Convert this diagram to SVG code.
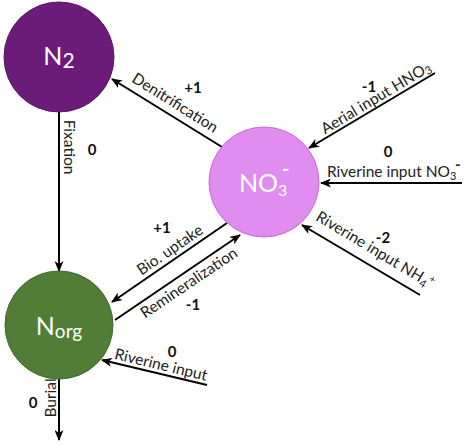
<svg xmlns="http://www.w3.org/2000/svg" width="469" height="445" viewBox="0 0 469 445">
<defs>
<marker id="ah" markerWidth="11" markerHeight="9" refX="10" refY="4.5" orient="auto" markerUnits="userSpaceOnUse">
<path d="M0,0 L11,4.5 L0,9 L3,4.5 z" fill="#000"/>
</marker>
<style>
.ln{stroke:#000;stroke-width:2;fill:none;marker-end:url(#ah)}
.lbl{font-family:Lato,"Open Sans","Liberation Sans",sans-serif;font-size:15.5px;fill:#222}
.num{font-family:Lato,"Open Sans","Liberation Sans",sans-serif;font-size:15px;font-weight:bold;fill:#111;text-anchor:middle}
.nd{font-family:Lato,"Open Sans","Liberation Sans",sans-serif;fill:#fff}
</style>
</defs>
<rect width="469" height="445" fill="#fff"/>
<g id="connectors">
<line class="ln" x1="59" y1="112" x2="59" y2="271"/>
<line class="ln" x1="59" y1="379" x2="59" y2="440"/>
<line class="ln" x1="222" y1="147" x2="112" y2="79"/>
<line class="ln" x1="435" y1="73" x2="309" y2="148"/>
<line class="ln" x1="462" y1="183" x2="321" y2="183"/>
<line class="ln" x1="420" y1="295" x2="302" y2="225"/>
<line class="ln" x1="227" y1="223" x2="112" y2="302"/>
<line class="ln" x1="115" y1="320" x2="240" y2="235"/>
<line class="ln" x1="207" y1="385" x2="102" y2="360"/>
</g>
<g id="N2">
<circle cx="59" cy="57" r="55" fill="#6b1c7b" stroke="#5a1568" stroke-width="1"/>
<text class="nd" x="59" y="65" text-anchor="middle" font-size="25">N<tspan font-size="21" dy="3">2</tspan></text>
</g>
<g id="NO3">
<circle cx="264" cy="182" r="55" fill="#e08cf0" stroke="#c56ad8" stroke-width="1"/>
<text class="nd" x="239" y="192" font-size="25">NO<tspan font-size="16" dy="4">3</tspan></text>
<text class="nd" x="282" y="176" font-size="20" font-weight="bold">-</text>
</g>
<g id="Norg">
<circle cx="59" cy="325" r="54" fill="#517d37" stroke="#42692b" stroke-width="1"/>
<text class="nd" x="59" y="335" text-anchor="middle" font-size="25">N<tspan font-size="19" dy="3">org</tspan></text>
</g>
<g id="labels">
<text class="lbl" transform="translate(69,147) rotate(90)" text-anchor="middle" y="5">Fixation</text>
<text class="num" x="92" y="155">0</text>
<text class="lbl" transform="translate(175,103) rotate(32)" text-anchor="middle" y="5">Denitrification</text>
<text class="num" x="193" y="93">+1</text>
<text class="lbl" transform="translate(376,98) rotate(-31)" text-anchor="middle" y="5">Aerial input HNO<tspan font-size="11" dy="2">3</tspan></text>
<text class="num" x="369" y="92">-1</text>
<text class="num" x="388" y="157">0</text>
<text class="lbl" x="327" y="177">Riverine input NO<tspan font-size="11" dy="3">3</tspan></text>
<text class="lbl" x="455" y="170" font-size="13" font-weight="bold">-</text>
<text class="num" x="383" y="243">-2</text>
<text class="lbl" transform="translate(375,250) rotate(31)" text-anchor="middle" y="5">Riverine input NH<tspan font-size="11" dy="3">4</tspan><tspan font-size="10" dy="-9">+</tspan></text>
<text class="num" x="162" y="233">+1</text>
<text class="lbl" transform="translate(170,250) rotate(-34.5)" text-anchor="middle" y="5">Bio. uptake</text>
<text class="lbl" transform="translate(189,283) rotate(-34)" text-anchor="middle" y="5">Remineralization</text>
<text class="num" x="193" y="310">-1</text>
<text class="num" x="172" y="357">0</text>
<text class="lbl" transform="translate(161,365) rotate(13.5)" text-anchor="middle" y="5">Riverine input</text>
<text class="num" x="33" y="408">0</text>
<text class="lbl" transform="translate(51,398) rotate(-90)" text-anchor="middle" y="5">Burial</text>
</g>
</svg>
